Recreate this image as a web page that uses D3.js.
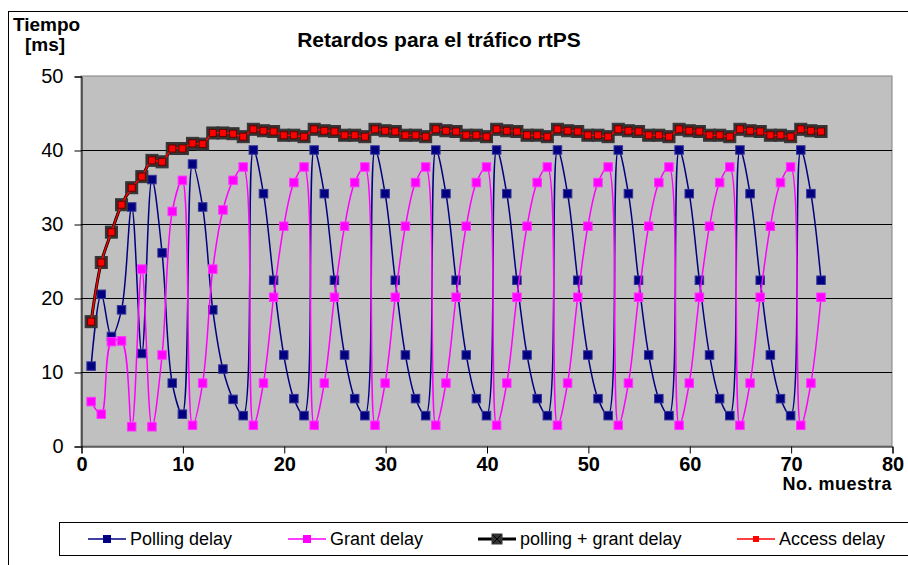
<!DOCTYPE html>
<html>
<head>
<meta charset="utf-8">
<script src="https://cdnjs.cloudflare.com/ajax/libs/d3/7.8.5/d3.min.js"></script>
<style>
  body { margin: 0; background: #fff; }
  text { font-family: "Liberation Sans", Arial, sans-serif; }
</style>
</head>
<body>
<script>
// sample numbers 1..73
var samples = d3.range(1, 74);

var polling = [10.8, 20.5, 14.8, 18.4, 32.3, 12.5, 36.0, 26.1, 8.5, 4.3, 38.1, 32.3, 18.4, 10.4, 6.3, 4.1,
  40, 34.1, 22.4, 12.3, 6.4, 4.1,  40, 34.1, 22.4, 12.3, 6.4, 4.1,  40, 34.1, 22.4, 12.3, 6.4, 4.1,
  40, 34.1, 22.4, 12.3, 6.4, 4.1,  40, 34.1, 22.4, 12.3, 6.4, 4.1,  40, 34.1, 22.4, 12.3, 6.4, 4.1,
  40, 34.1, 22.4, 12.3, 6.4, 4.1,  40, 34.1, 22.4, 12.3, 6.4, 4.1,  40, 34.1, 22.4, 12.3, 6.4, 4.1,
  40, 34.1, 22.4];

var grant = [6.0, 4.3, 14.1, 14.2, 2.6, 23.9, 2.6, 12.3, 31.7, 35.9, 2.8, 8.5, 23.9, 31.9, 35.9, 37.7,
  2.8, 8.5, 20.1, 29.7, 35.6, 37.7,  2.8, 8.5, 20.1, 29.7, 35.6, 37.7,  2.8, 8.5, 20.1, 29.7, 35.6, 37.7,
  2.8, 8.5, 20.1, 29.7, 35.6, 37.7,  2.8, 8.5, 20.1, 29.7, 35.6, 37.7,  2.8, 8.5, 20.1, 29.7, 35.6, 37.7,
  2.8, 8.5, 20.1, 29.7, 35.6, 37.7,  2.8, 8.5, 20.1, 29.7, 35.6, 37.7,  2.8, 8.5, 20.1, 29.7, 35.6, 37.7,
  2.8, 8.5, 20.1];

var pollingGrant = [16.8, 24.8, 28.9, 32.6, 34.9, 36.4, 38.6, 38.4, 40.2, 40.2, 40.9, 40.8, 42.3, 42.3, 42.2, 41.8,
  42.8, 42.6, 42.5, 42.0, 42.0, 41.8,  42.8, 42.6, 42.5, 42.0, 42.0, 41.8,  42.8, 42.6, 42.5, 42.0, 42.0, 41.8,
  42.8, 42.6, 42.5, 42.0, 42.0, 41.8,  42.8, 42.6, 42.5, 42.0, 42.0, 41.8,  42.8, 42.6, 42.5, 42.0, 42.0, 41.8,
  42.8, 42.6, 42.5, 42.0, 42.0, 41.8,  42.8, 42.6, 42.5, 42.0, 42.0, 41.8,  42.8, 42.6, 42.5, 42.0, 42.0, 41.8,
  42.8, 42.6, 42.5];

var access = [16.8, 24.8, 28.9, 32.6, 34.9, 36.4, 38.6, 38.4, 40.2, 40.2, 40.9, 40.8, 42.3, 42.3, 42.2, 41.8,
  42.8, 42.6, 42.5, 42.0, 42.0, 41.8,  42.8, 42.6, 42.5, 42.0, 42.0, 41.8,  42.8, 42.6, 42.5, 42.0, 42.0, 41.8,
  42.8, 42.6, 42.5, 42.0, 42.0, 41.8,  42.8, 42.6, 42.5, 42.0, 42.0, 41.8,  42.8, 42.6, 42.5, 42.0, 42.0, 41.8,
  42.8, 42.6, 42.5, 42.0, 42.0, 41.8,  42.8, 42.6, 42.5, 42.0, 42.0, 41.8,  42.8, 42.6, 42.5, 42.0, 42.0, 41.8,
  42.8, 42.6, 42.5];

var xTicks = [0, 10, 20, 30, 40, 50, 60, 70, 80];
var yTicks = [0, 10, 20, 30, 40, 50];
var legendLabels = ["Polling delay", "Grant delay", "polling + grant delay", "Access delay"];

var w = 908, h = 565;
var plotL = 81, plotR = 892, plotT = 76, plotB = 446;

var svg = d3.select("body").append("svg").attr("width", w).attr("height", h);

svg.append("rect").attr("width", w).attr("height", h).attr("fill", "#fff");
// chart area border (runs off the page right/bottom)
svg.append("rect").attr("x", 8.5).attr("y", 11.5).attr("width", 950).attr("height", 600)
  .attr("fill", "none").attr("stroke", "#000");

var x = d3.scaleLinear().domain([0, 80]).range([plotL, plotR]);
var y = d3.scaleLinear().domain([0, 50]).range([plotB, plotT]);

// plot area
svg.append("rect").attr("x", plotL).attr("y", plotT).attr("width", plotR - plotL).attr("height", plotB - plotT)
  .attr("fill", "#c0c0c0").attr("stroke", "#808080");

svg.append("g").selectAll("line").data([10, 20, 30, 40]).enter().append("line")
  .attr("x1", plotL).attr("x2", plotR)
  .attr("y1", function(d) { return Math.round(y(d)) + 0.5; })
  .attr("y2", function(d) { return Math.round(y(d)) + 0.5; })
  .attr("stroke", "#000");

// axes
var yAxis = svg.append("g").attr("transform", "translate(" + (plotL + 0.5) + ",0.5)")
  .call(d3.axisLeft(y).tickValues(yTicks).tickSize(7).tickPadding(11));
yAxis.select(".domain").attr("stroke", "#000");
yAxis.selectAll("line").attr("stroke", "#000");
yAxis.selectAll("text").attr("font-size", 20).attr("fill", "#000")
  .attr("font-family", "Liberation Sans, Arial, sans-serif");

var xAxis = svg.append("g").attr("transform", "translate(0.5," + (plotB + 0.5) + ")")
  .call(d3.axisBottom(x).tickValues(xTicks).tickSize(7).tickPadding(3));
xAxis.select(".domain").attr("stroke", "#000");
xAxis.selectAll("line").attr("stroke", "#000");
xAxis.selectAll("text").attr("font-size", 20).attr("font-weight", "bold").attr("fill", "#000")
  .attr("font-family", "Liberation Sans, Arial, sans-serif");

// titles
svg.append("text").attr("x", 439).attr("y", 47).attr("text-anchor", "middle")
  .attr("font-size", 21).attr("font-weight", "bold").text("Retardos para el tráfico rtPS");
svg.append("text").attr("x", 13).attr("y", 31).attr("font-size", 19).attr("font-weight", "bold").text("Tiempo");
svg.append("text").attr("x", 25).attr("y", 51).attr("font-size", 19).attr("font-weight", "bold").text("[ms]");
svg.append("text").attr("x", 892).attr("y", 490).attr("text-anchor", "end")
  .attr("font-size", 18).attr("font-weight", "bold").attr("letter-spacing", 0.5).text("No. muestra");

var line = d3.line().curve(d3.curveCatmullRom.alpha(0.5))
  .x(function(d, i) { return x(samples[i]); })
  .y(function(d) { return y(d); });

var plot = svg.append("g");

function squares(vals, size, fill, stroke) {
  plot.append("g").selectAll("rect").data(vals).enter().append("rect")
    .attr("x", function(d, i) { return x(samples[i]) - size / 2; })
    .attr("y", function(d) { return y(d) - size / 2; })
    .attr("width", size).attr("height", size)
    .attr("fill", fill).attr("stroke", stroke).attr("stroke-width", 1);
}

plot.append("path").datum(polling).attr("d", line).attr("fill", "none").attr("stroke", "#000080").attr("stroke-width", 1.5);
squares(polling, 8.5, "#000080", "#333399");

plot.append("path").datum(grant).attr("d", line).attr("fill", "none").attr("stroke", "#ff00ff").attr("stroke-width", 1.5);
squares(grant, 8.5, "#ff00ff", "#ff33ff");

plot.append("path").datum(pollingGrant).attr("d", line).attr("fill", "none").attr("stroke", "#000").attr("stroke-width", 3);
squares(pollingGrant, 12, "#333333", "#333333");

plot.append("path").datum(access).attr("d", line).attr("fill", "none").attr("stroke", "#ff0000").attr("stroke-width", 1.5);
squares(access, 7, "#ff0000", "#660000");

// legend
var legend = svg.append("g");
legend.append("rect").attr("x", 59.5).attr("y", 522.5).attr("width", 900).attr("height", 33)
  .attr("fill", "#fff").attr("stroke", "#000");

var legendX = [107, 307, 497, 756];
var legendStroke = ["#000080", "#ff00ff", "#000", "#ff0000"];
var legendWidth = [1.5, 1.5, 3, 1.5];
var legendFill = ["#000080", "#ff00ff", "#333333", "#ff0000"];
var legendSize = [8, 8, 11, 6];

legendLabels.forEach(function(label, i) {
  var cx = legendX[i], cy = 539;
  legend.append("line").attr("x1", cx - 19).attr("x2", cx + 19).attr("y1", cy).attr("y2", cy)
    .attr("stroke", legendStroke[i]).attr("stroke-width", legendWidth[i]);
  legend.append("rect").attr("x", cx - legendSize[i] / 2).attr("y", cy - legendSize[i] / 2)
    .attr("width", legendSize[i]).attr("height", legendSize[i]).attr("fill", legendFill[i]);
  if (i === 2) {
    legend.append("path").attr("d", "M" + (cx - 4) + "," + (cy - 4) + "L" + (cx + 4) + "," + (cy + 4) +
      "M" + (cx + 4) + "," + (cy - 4) + "L" + (cx - 4) + "," + (cy + 4)).attr("stroke", "#000").attr("stroke-width", 1);
  }
  legend.append("text").attr("x", cx + 23).attr("y", cy + 6).attr("font-size", 18).text(label);
});
</script>
</body>
</html>
